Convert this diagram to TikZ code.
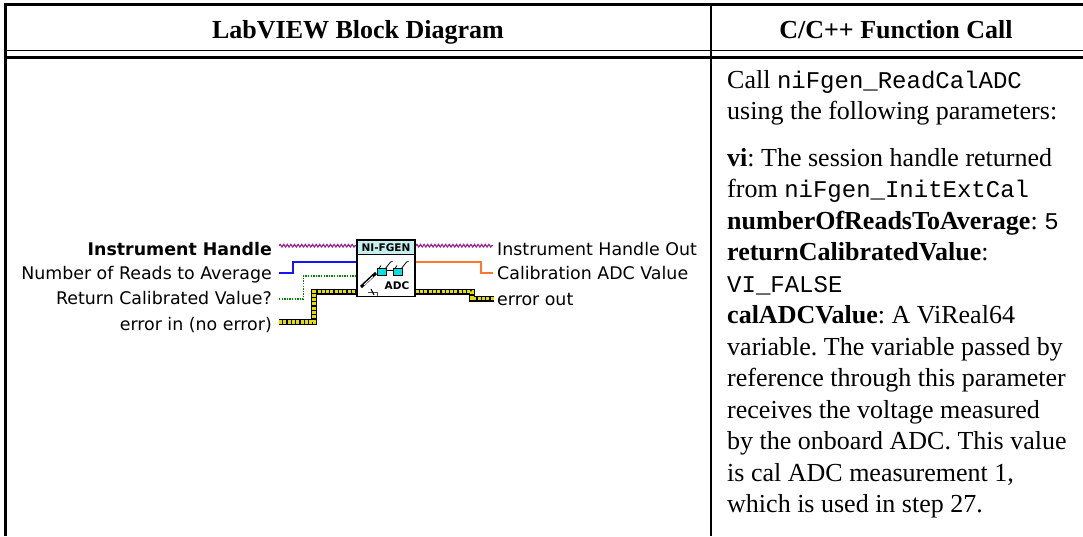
\documentclass[tikz,border=0pt]{standalone}
\usepackage{fontspec}
\setmainfont{Liberation Serif}
\setmonofont{Liberation Mono}
\newfontfamily\lvfont{DejaVu Sans}
\usetikzlibrary{decorations.pathmorphing}
\frenchspacing
\definecolor{wirepurple}{RGB}{150,40,150}
\definecolor{wireblue}{RGB}{20,20,255}
\definecolor{wiregreen}{RGB}{0,135,0}
\definecolor{wireorange}{RGB}{255,120,40}
\definecolor{erryellow}{RGB}{228,222,0}
\definecolor{iconcyan}{RGB}{196,238,240}
\definecolor{lenscyan}{RGB}{0,225,230}
\tikzset{
  tblline/.style={line width=3pt},
  hdrtext/.style={anchor=base, inner sep=0pt, font=\fontsize{26}{31}\selectfont\bfseries},
  bodytext/.style={anchor=base west, inner sep=0pt, font=\fontsize{26}{31}\selectfont\frenchspacing},
  inlabel/.style={anchor=base east, inner sep=0pt, font=\lvfont\fontsize{17.4}{20}\selectfont},
  outlabel/.style={anchor=base west, inner sep=0pt, font=\lvfont\fontsize{17.4}{20}\selectfont},
  iconbox/.style={draw=black, line width=1.5pt, fill=white, minimum width=58pt, minimum height=56.7pt, inner sep=0pt},
  purplewire/.style={wirepurple, line width=1.2pt, decorate, decoration={snake, segment length=3.6pt, amplitude=1.3pt}},
  bluewire/.style={wireblue, line width=2pt},
  orangewire/.style={wireorange, line width=2pt},
  greenwire/.style={wiregreen, line width=1.3pt, dash pattern=on 1.3pt off 1.3pt},
  errwire/.style={erryellow, line width=3.4pt, dash pattern=on 3pt off 1.3pt, preaction={draw=black, line width=6pt, solid}},
}
\newcommand{\mono}[1]{{\fontsize{24}{31}\selectfont\ttfamily #1}}
\begin{document}
\begin{tikzpicture}[x=1pt,y=-1pt]
\useasboundingbox (0,0) rectangle (1083,536);
% table lines
\draw[tblline] (3.5,4) -- (1083,4);
\draw[tblline] (5,2.5) -- (5,536);
\draw[line width=2pt] (711,4) -- (711,536);
\draw[line width=1.5pt] (5,50.5) -- (1083,50.5);
\draw[line width=2.5pt] (5,57.5) -- (1083,57.5);
% headers
\node[hdrtext] (h1) at (358,38) {LabVIEW Block Diagram};
\node[hdrtext] (h2) at (896,38) {C/C++ Function Call};
% right column text
\node[bodytext] (t1) at (727,88) {Call \mono{niFgen\_ReadCalADC}};
\node[bodytext] (t2) at (727,119) {using the following parameters:};
\node[bodytext] (t3) at (727,166) {\textbf{vi}: The session handle returned};
\node[bodytext] (t4) at (727,197.5) {from \mono{niFgen\_InitExtCal}};
\node[bodytext] (t5) at (727,229) {\textbf{numberOfReadsToAverage}: \mono{5}};
\node[bodytext] (t6) at (727,260.5) {\textbf{returnCalibratedValue}:};
\node[bodytext] (t7) at (727,292) {\mono{VI\_FALSE}};
\node[bodytext] (t8) at (727,323.5) {\textbf{calADCValue}: A ViReal64};
\node[bodytext] (t9) at (727,355) {variable. The variable passed by};
\node[bodytext] (t10) at (727,386.5) {reference through this parameter};
\node[bodytext] (t11) at (727,418) {receives the voltage measured};
\node[bodytext] (t12) at (727,449.5) {by the onboard ADC. This value};
\node[bodytext] (t13) at (727,481) {is cal ADC measurement 1,};
\node[bodytext] (t14) at (727,512.5) {which is used in step 27.};
% LabVIEW labels
\node[inlabel, font=\lvfont\fontsize{17.4}{20}\selectfont\bfseries] (lih) at (272,255) {Instrument Handle};
\node[inlabel] (lnr) at (272,279) {Number of Reads to Average};
\node[inlabel] (lrc) at (272,304) {Return Calibrated Value?};
\node[inlabel] (lei) at (272,330) {error in (no error)};
\node[outlabel] (lio) at (497,255) {Instrument Handle Out};
\node[outlabel] (lca) at (497,279) {Calibration ADC Value};
\node[outlabel] (leo) at (497,305) {error out};
% icon
\node[iconbox] (icon) at (386,268.35) {};
% row coordinates
\coordinate (yP) at (0,245.7);
\coordinate (yB) at (0,261.7);
\coordinate (yD) at (0,276);
\coordinate (yF) at (0,291.7);
% wire ends
\coordinate (pIn) at (279,245.7);
\coordinate (pOut) at (493,245.7);
\coordinate (bIn) at (279,273.4);
\coordinate (bBend) at (292.7,261.7);
\coordinate (gIn) at (279,299);
\coordinate (gBend) at (303.3,276);
\coordinate (eIn) at (279,322);
\coordinate (eBend) at (314,291.7);
\coordinate (oBend) at (481,273.4);
\coordinate (oOut) at (493,273.4);
\coordinate (xBend) at (472,298.5);
\coordinate (xOut) at (494,298.5);
% wires
\draw[greenwire] (gIn) -| (gBend) -- (icon.west |- yD);
\draw[bluewire] (bIn) -| (bBend) -- (icon.west |- yB);
\draw[errwire] (eIn) -| (eBend) -- (icon.west |- yF);
\draw[purplewire] (pIn) -- (icon.west |- yP);
\draw[purplewire] (icon.east |- yP) -- (pOut);
\draw[orangewire] (icon.east |- yB) -| (oBend) -- (oOut);
\draw[errwire] (icon.east |- yF) -| (xBend) -- (xOut);
% icon redraw on top
\node[iconbox] (iconb) at (386,268.35) {};
\fill[iconcyan] (357.75,240.75) rectangle (414.25,254.4);
\draw[line width=1pt] (357,254.4) -- (415,254.4);
\node[inner sep=0pt, font=\lvfont\fontsize{10.5}{11}\selectfont\bfseries] (nif) at (386,247.6) {NI-FGEN};
\node[inner sep=0pt, font=\lvfont\fontsize{10.5}{11}\selectfont\bfseries] (adc) at (397,286) {ADC};
% glasses
\draw[line width=0.8pt, fill=lenscyan] (377.3,268.4) rectangle (386.7,275);
\draw[line width=0.8pt, fill=lenscyan] (393.3,268.4) rectangle (402.7,275);
\draw[line width=0.8pt] (386.7,270) -- (393.3,270);
\draw[line width=0.8pt] (385.5,268.4) -- (390.5,262) -- (392.5,261.5);
\draw[line width=0.8pt] (401.5,268.4) -- (406.5,262) -- (408.5,261.5);
\draw[line width=0.8pt] (379,268.4) -- (381,265.5);
\draw[line width=0.8pt] (395,268.4) -- (397,265.5);
% tool
\draw[line width=3pt] (361,287) -- (376,273);
\draw[line width=1pt, white] (364,285) -- (373,276.5);
\draw[line width=1pt, black!70] (368,292) -- (377,292) -- (377,296);
\draw[line width=1pt] (371,289) -- (374,295);
\end{tikzpicture}
\end{document}
